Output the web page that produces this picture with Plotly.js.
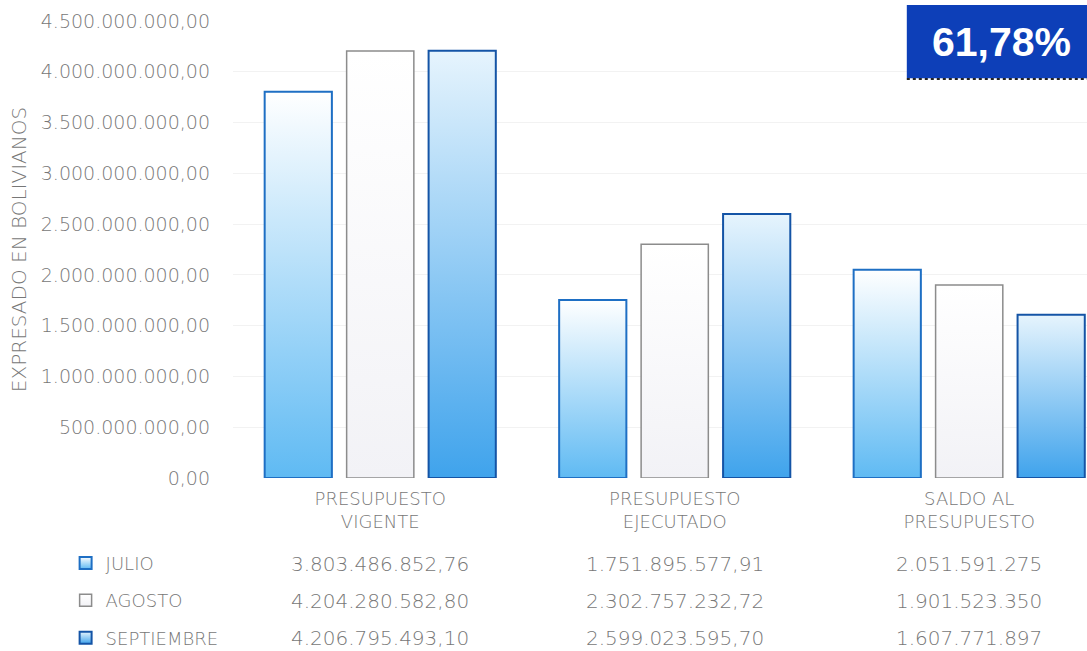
<!DOCTYPE html>
<html>
<head>
<meta charset="utf-8">
<script src="https://cdn.plot.ly/plotly-3.0.1.min.js"></script>
<style>
html,body{margin:0;padding:0;background:#fff;}
#chart{width:1087px;height:651px;}
</style>
</head>
<body>
<div id="chart"></div>
<script>
// ---- data ----
const categories = ["PRESUPUESTO<br>VIGENTE", "PRESUPUESTO<br>EJECUTADO", "SALDO AL<br>PRESUPUESTO"];
const categoryDecimals = [2, 2, 0];
const seriesNames = ["JULIO", "AGOSTO", "SEPTIEMBRE"];
const julio = [3803486852.76, 1751895577.91, 2051591274.85];
const agosto = [4204280582.80, 2302757232.72, 1901523350.08];
const septiembre = [4206795493.10, 2599023595.70, 1607771897.40];
const yTicks = [0, 500000000, 1000000000, 1500000000, 2000000000, 2500000000, 3000000000, 3500000000, 4000000000, 4500000000];
const badgeText = "61,78%";
const yAxisTitle = "EXPRESADO EN BOLIVIANOS";

const seriesValues = [julio, agosto, septiembre];
const lineColors = ["#1e6fc4", "#8c8c8c", "#1454a6"];
const fillColors = ["#a9dbf8", "#ffffff", "#7cc3f2"];
const gradIds = ["gJulio", "gAgosto", "gSept"];

function fmt(v, d) {
  const s = v.toFixed(d);
  const parts = s.split(".");
  const intPart = parts[0].replace(/\B(?=(\d{3})+(?!\d))/g, ".");
  return d > 0 ? intPart + "," + parts[1] : intPart;
}

const FONT = "'DejaVu Sans', sans-serif";
const W = 300;
const GRAY = "#777777";

const traces = seriesNames.map((name, i) => ({
  type: "bar",
  name: name,
  x: categories,
  y: seriesValues[i],
  legendgroup: "g" + i,
  marker: {color: fillColors[i], line: {color: lineColors[i], width: i === 1 ? 1.5 : 2}},
  hoverinfo: "skip"
}));

const rowY = [-0.188, -0.269, -0.350];
const annotations = [];
seriesValues.forEach((vals, i) => {
  vals.forEach((v, j) => {
    annotations.push({
      xref: "x", yref: "paper", x: categories[j], y: rowY[i],
      text: fmt(v, categoryDecimals[j]), showarrow: false,
      xanchor: "center", yanchor: "middle",
      font: {family: FONT, size: 20, color: GRAY, weight: W}
    });
  });
});
annotations.push({
  xref: "paper", yref: "paper", x: 0.90, y: 0.955,
  text: "<b>" + badgeText + "</b>", showarrow: false,
  xanchor: "center", yanchor: "middle",
  font: {family: "'Liberation Sans', Arial, sans-serif", size: 41, color: "#ffffff"}
});

const layout = {
  width: 1087, height: 651,
  margin: {l: 233, r: 0, t: 21, b: 173, autoexpand: false},
  paper_bgcolor: "#ffffff", plot_bgcolor: "#ffffff",
  separators: ",.",
  barmode: "group", bargap: 0.165, bargroupgap: 0.18,
  font: {family: FONT, color: GRAY, size: 18, weight: W},
  xaxis: {
    type: "category", range: [-0.5, 2.4], showgrid: false, zeroline: false,
    showline: false, ticks: "", ticklabelstandoff: 8,
    tickfont: {family: FONT, size: 18, color: GRAY, weight: W},
    fixedrange: true, automargin: false
  },
  yaxis: {
    range: [0, 4500000000], tickvals: yTicks, tickformat: ",.2f",
    showgrid: true, gridcolor: "#f2f2f2", gridwidth: 1, zeroline: false,
    showline: false, ticks: "", ticklabelstandoff: 22,
    tickfont: {family: FONT, size: 19, color: GRAY, weight: W},
    title: {text: yAxisTitle, font: {family: FONT, size: 20, color: GRAY, weight: W}, standoff: 8},
    automargin: false, fixedrange: true
  },
  showlegend: true,
  legend: {
    x: -0.196, xanchor: "left", y: -0.146, yanchor: "top",
    orientation: "v", tracegroupgap: 11, traceorder: "grouped",
    font: {family: FONT, size: 18, color: GRAY, weight: W}, bgcolor: "rgba(0,0,0,0)",
    itemwidth: 30
  },
  shapes: [
    {type: "rect", xref: "paper", yref: "paper", x0: 0.789, x1: 1.01, y0: 0.875, y1: 1.035,
     fillcolor: "#0d3fb8", line: {width: 0}, layer: "above"},
    {type: "line", xref: "paper", yref: "paper", x0: 0.789, x1: 1.01, y0: 0.873, y1: 0.873,
     line: {color: "#222222", width: 2, dash: "dot"}, layer: "above"}
  ],
  annotations: annotations
};

Plotly.newPlot("chart", traces, layout, {displayModeBar: false, staticPlot: true}).then(gd => {
  const svgNS = "http://www.w3.org/2000/svg";
  const svg = gd.querySelector(".main-svg");
  let defs = svg.querySelector("defs");
  if (!defs) { defs = document.createElementNS(svgNS, "defs"); svg.insertBefore(defs, svg.firstChild); }
  const stops = [
    [["0", "#ffffff"], ["1", "#5fbaf3"]],
    [["0", "#ffffff"], ["1", "#f2f2f6"]],
    [["0", "#e6f4fd"], ["1", "#3fa3ec"]]
  ];
  gradIds.forEach((id, i) => {
    const lg = document.createElementNS(svgNS, "linearGradient");
    lg.setAttribute("id", id);
    lg.setAttribute("x1", "0"); lg.setAttribute("y1", "0");
    lg.setAttribute("x2", "0"); lg.setAttribute("y2", "1");
    stops[i].forEach(s => {
      const st = document.createElementNS(svgNS, "stop");
      st.setAttribute("offset", s[0]); st.setAttribute("stop-color", s[1]);
      lg.appendChild(st);
    });
    defs.appendChild(lg);
  });
  const barTraces = gd.querySelectorAll(".barlayer .trace.bars");
  barTraces.forEach((t, i) => {
    t.querySelectorAll(".point path").forEach(p => { p.style.fill = "url(#" + gradIds[i] + ")"; });
  });
  const legendTraces = gd.querySelectorAll(".legend .traces");
  legendTraces.forEach((t, i) => {
    t.querySelectorAll(".legendpoints path").forEach(p => { p.style.fill = "url(#" + gradIds[i] + ")"; });
  });
});
</script>
</body>
</html>
